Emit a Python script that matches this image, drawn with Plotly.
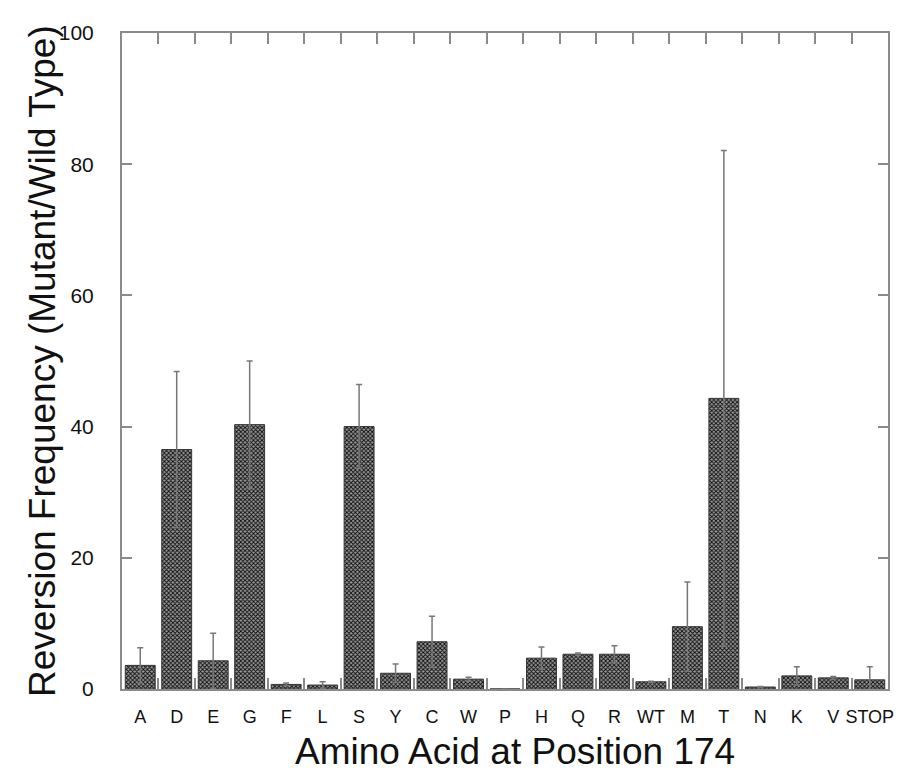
import plotly.graph_objects as go

categories = ["A", "D", "E", "G", "F", "L", "S", "Y", "C", "W", "P",
              "H", "Q", "R", "WT", "M", "T", "N", "K", "V", "STOP"]
values = [3.6, 36.5, 4.3, 40.3, 0.7, 0.6, 40.0, 2.4, 7.2, 1.5, 0.0,
          4.7, 5.3, 5.3, 1.1, 9.5, 44.3, 0.3, 2.0, 1.7, 1.4]
errors = [2.7, 11.9, 4.2, 9.7, 0.2, 0.5, 6.4, 1.4, 3.9, 0.3, 0.0,
          1.7, 0.2, 1.3, 0.1, 6.8, 37.8, 0.1, 1.4, 0.2, 2.0]
y_ticks = [0, 20, 40, 60, 80, 100]
x_title = "Amino Acid at Position 174"
y_title = "Reversion Frequency (Mutant/Wild Type)"

fig = go.Figure()
fig.add_trace(go.Bar(
    x=categories, y=values,
    marker=dict(
        color="#444444",
        line=dict(color="#333333", width=1),
        pattern=dict(shape="x", size=3, solidity=0.5,
                     fgcolor="#0a0a0a", bgcolor="#9a9a9a", fillmode="replace"),
    ),
    error_y=dict(type="data", array=errors, visible=True,
                 color="#777777", thickness=1.5, width=3),
    showlegend=False,
))

axis_col = "#8a8a8a"
fig.update_layout(
    width=915, height=779,
    margin=dict(l=122, r=27, t=33, b=90),
    plot_bgcolor="white", paper_bgcolor="white",
    bargap=0.18,
    font=dict(family="Liberation Sans, Arial, sans-serif", color="#111111"),
    xaxis=dict(
        type="category", tickson="boundaries", ticks="inside", ticklen=11,
        tickcolor=axis_col, tickwidth=1.5, tickangle=0,
        showline=True, linecolor=axis_col, linewidth=2, mirror="ticks",
        showgrid=False, tickfont=dict(size=18), ticklabelstandoff=10,
        range=[-0.5, len(categories) - 0.5],
    ),
    yaxis=dict(
        range=[0, 100], tickvals=y_ticks, ticks="inside", ticklen=10,
        tickcolor=axis_col, tickwidth=1.5,
        showline=True, linecolor=axis_col, linewidth=2, mirror="ticks",
        showgrid=False, zeroline=False, tickfont=dict(size=21),
        ticklabelstandoff=22,
    ),
    annotations=[
        dict(text=x_title, xref="paper", yref="paper", x=0.5, y=0,
             xanchor="center", yanchor="top", yshift=-40, xshift=10,
             showarrow=False, font=dict(size=37, color="#111111")),
        dict(text=y_title, xref="paper", yref="paper", x=0, y=0.5,
             xanchor="center", yanchor="middle", xshift=-80, textangle=-90,
             showarrow=False, font=dict(size=37, color="#111111")),
    ],
)

fig.write_html("out.html")
